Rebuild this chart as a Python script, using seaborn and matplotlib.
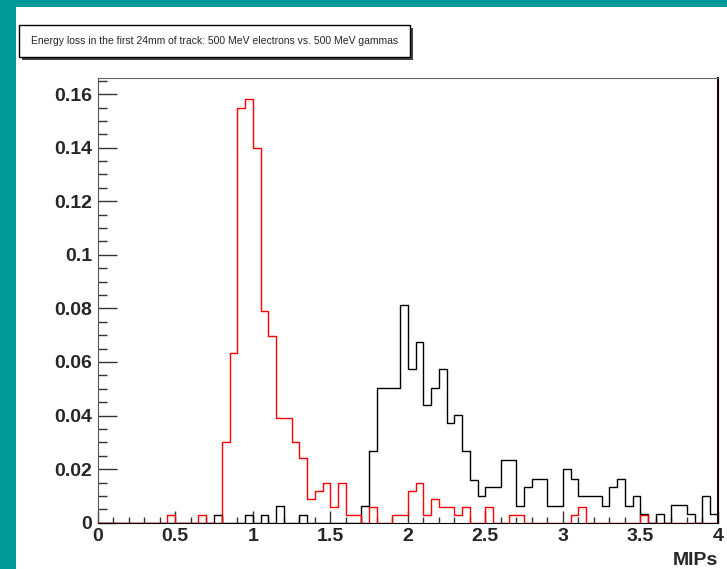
import numpy as np
import pandas as pd
import matplotlib.pyplot as plt
import seaborn as sns
from matplotlib.patches import Rectangle
from matplotlib.ticker import MultipleLocator, FuncFormatter

# --- data: fraction per 0.05 MIP bin, 0..4 MIPs (80 bins) ---
bin_width = 0.05
x_min, x_max = 0.0, 4.0

# black: 500 MeV gammas
gammas = [
    0, 0, 0, 0, 0, 0, 0, 0, 0, 0,
    0, 0, 0, 0, 0, 0.0029, 0, 0, 0, 0.0029,
    0, 0.0029, 0, 0.0063, 0, 0, 0.0029, 0, 0, 0,
    0, 0, 0, 0, 0.0063, 0.0269, 0.0504, 0.0504, 0.0504, 0.0813,
    0.0572, 0.0674, 0.0438, 0.0504, 0.0572, 0.0371, 0.0402, 0.0269, 0.0160, 0.0100,
    0.0135, 0.0135, 0.0233, 0.0233, 0.0063, 0.0132, 0.0165, 0.0165, 0.0063, 0.0063,
    0.0202, 0.0165, 0.0098, 0.0098, 0.0098, 0.0063, 0.0132, 0.0165, 0.0063, 0.0098,
    0.0031, 0, 0.0031, 0, 0.0065, 0.0065, 0.0031, 0, 0.0098, 0.0031,
]

# red: 500 MeV electrons
electrons = [
    0, 0, 0, 0, 0, 0, 0, 0, 0, 0.0029,
    0, 0, 0, 0.0029, 0, 0, 0.0302, 0.0635, 0.1549, 0.1580,
    0.1400, 0.0790, 0.0698, 0.0391, 0.0391, 0.0302, 0.0240, 0.0089, 0.0120, 0.0150,
    0.0060, 0.0150, 0.0030, 0.0030, 0, 0.0060, 0, 0, 0.0030, 0.0030,
    0.0120, 0.0150, 0.0030, 0.0088, 0.0060, 0.0060, 0.0030, 0.0060, 0, 0,
    0.0060, 0, 0, 0.0030, 0.0030, 0, 0, 0, 0, 0,
    0, 0.0030, 0.0060, 0, 0, 0, 0, 0, 0, 0,
    0.0030, 0, 0, 0, 0, 0, 0, 0, 0, 0,
]

title = "Energy loss in the first 24mm of track: 500 MeV electrons vs. 500 MeV gammas"
x_label = "MIPs"

n_bins = len(gammas)
df = pd.DataFrame({
    "center": x_min + bin_width * (np.arange(n_bins) + 0.5),
    "gammas": gammas,
    "electrons": electrons,
})

sns.set_style("white")
plt.rcParams['font.family'] = ['Liberation Sans', 'DejaVu Sans']

W, H = 727, 569
fig = plt.figure(figsize=(W / 100, H / 100), dpi=100, facecolor='#009999')

# white canvas inside the teal frame
fig.patches.append(Rectangle((16 / W, 0), 1 - 16 / W, 1 - 7 / H, transform=fig.transFigure,
                             facecolor='white', edgecolor='none', zorder=-10))

# title box with shadow
bx0, bx1, by0, by1 = 19, 410, 25, 57
fig.patches.append(Rectangle(((bx0 + 3) / W, 1 - (by1 + 3) / H), (bx1 - bx0) / W, (by1 - by0) / H,
                             transform=fig.transFigure, facecolor='#444444', edgecolor='none', zorder=1))
fig.patches.append(Rectangle((bx0 / W, 1 - by1 / H), (bx1 - bx0) / W, (by1 - by0) / H,
                             transform=fig.transFigure, facecolor='white', edgecolor='black',
                             lw=1, zorder=2))
ttl = fig.text((bx0 + bx1) / 2 / W, 1 - (by0 + by1) / 2 / H, title, ha='center', va='center',
               fontsize=10, zorder=3)
# shrink title so it fits the box like the narrow font of the original
renderer = fig.canvas.get_renderer()
tw = ttl.get_window_extent(renderer).width
ttl.set_fontsize(10 * 367 / tw)

ax = fig.add_axes([97.7 / W, 1 - 522.7 / H, (718 - 97.7) / W, (522.7 - 77.5) / H])
ax.set_zorder(5)
ax.set_facecolor('white')

sns.histplot(data=df, x="center", weights="gammas", bins=n_bins, binrange=(x_min, x_max),
             element='step', fill=False, color='black', linewidth=1, ax=ax)
sns.histplot(data=df, x="center", weights="electrons", bins=n_bins, binrange=(x_min, x_max),
             element='step', fill=False, color='red', linewidth=1, ax=ax)
ax.axvline(x_max - 0.003, color='red', lw=1, zorder=5)

ax.set_xlim(x_min, x_max)
ax.set_ylim(0, 0.1662)

ax.xaxis.set_major_locator(MultipleLocator(0.5))
ax.xaxis.set_minor_locator(MultipleLocator(0.1))
ax.yaxis.set_major_locator(MultipleLocator(0.02))
ax.yaxis.set_minor_locator(MultipleLocator(0.005))
fmt = FuncFormatter(lambda v, p: '%g' % round(v, 3))
ax.xaxis.set_major_formatter(fmt)
ax.yaxis.set_major_formatter(fmt)

# ROOT-style inward ticks (seaborn "white" turns them off)
ax.tick_params(which='both', left=True, bottom=True, top=False, right=False)
ax.tick_params(axis='y', which='major', direction='in', length=13.5, width=1, color='#333333',
               labelsize=14, pad=4)
ax.tick_params(axis='y', which='minor', direction='in', length=6.5, width=1, color='#333333')
ax.tick_params(axis='x', which='major', direction='in', length=9, width=1, color='#333333',
               labelsize=14, pad=4)
ax.tick_params(axis='x', which='minor', direction='in', length=4, width=1, color='#333333')
for lab in ax.get_xticklabels() + ax.get_yticklabels():
    lab.set_fontweight('bold')

ax.set_ylabel('')
ax.set_xlabel(x_label, fontsize=14, fontweight='bold', loc='right', labelpad=5)

ax.spines['left'].set_color('#555555')
ax.spines['top'].set_color('#666666')
ax.spines['right'].set_color('black')
ax.spines['right'].set_linewidth(1.5)
ax.spines['bottom'].set_color('black')

fig.savefig('out.png', dpi=100, facecolor=fig.get_facecolor())
